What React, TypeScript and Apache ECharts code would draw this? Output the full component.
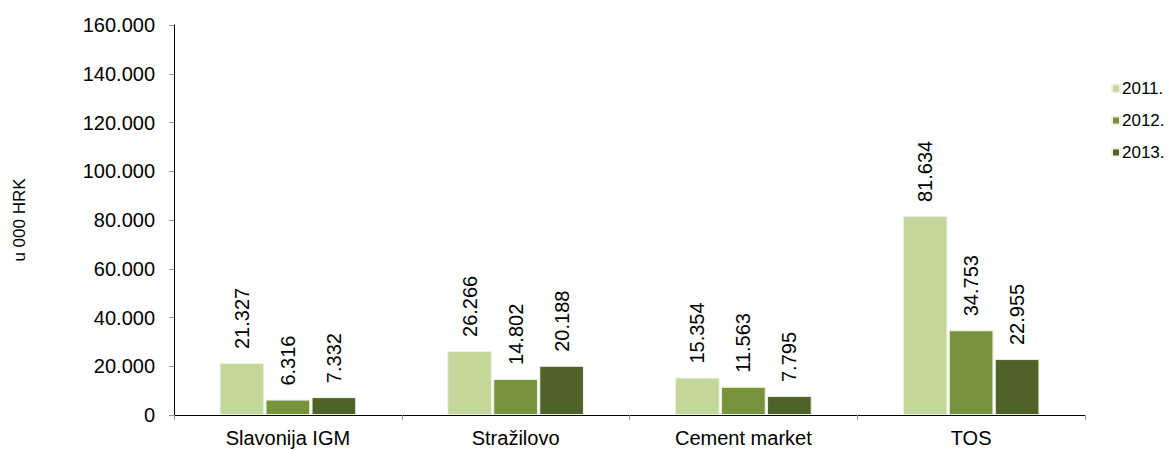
import React, { useEffect, useRef } from "react";
import * as echarts from "echarts";

const categories = ["Slavonija IGM", "Stražilovo", "Cement market", "TOS"];
const s2011 = [21327, 26266, 15354, 81634];
const s2012 = [6316, 14802, 11563, 34753];
const s2013 = [7332, 20188, 7795, 22955];
const seriesNames = ["2011.", "2012.", "2013."];
const colors = ["#C4D79B", "#77933C", "#4F6228"];

const fmt = (v: number) => {
  if (v === 0) return "0";
  const s = Math.round(v).toString();
  return s.replace(/\B(?=(\d{3})+(?!\d))/g, ".");
};

export default function App() {
  const ref = useRef<HTMLDivElement>(null);
  useEffect(() => {
    if (!ref.current) return;
    const chart = echarts.init(ref.current, undefined, { renderer: "svg" });
    const data = [s2011, s2012, s2013];
    chart.setOption({
      animation: false,
      textStyle: { fontFamily: "Liberation Sans, Arial, sans-serif" },
      grid: { left: 174, right: 83, top: 25, bottom: 35, containLabel: false },
      legend: {
        orient: "vertical",
        left: 1106,
        top: 75,
        itemWidth: 8,
        itemHeight: 8,
        itemGap: 15,
        icon: "rect",
        textStyle: { fontSize: 17, color: "#000", padding: [0, 0, 0, -3] },
        data: seriesNames,
      },
      xAxis: {
        type: "category",
        data: categories,
        axisLine: { lineStyle: { color: "#000", width: 1 } },
        axisTick: { show: true, length: 5, lineStyle: { color: "#999" } },
        axisLabel: { fontSize: 20, color: "#000", margin: 13 },
      },
      yAxis: {
        type: "value",
        min: 0,
        max: 160000,
        interval: 20000,
        name: "u 000 HRK",
        nameLocation: "middle",
        nameGap: 146,
        nameRotate: 90,
        nameTextStyle: { fontSize: 17, color: "#000" },
        axisLine: { show: true, lineStyle: { color: "#000", width: 1 } },
        axisTick: { show: true, length: 5, lineStyle: { color: "#999" } },
        splitLine: { show: false },
        axisLabel: { fontSize: 20, color: "#000", formatter: (v: number) => fmt(v), margin: 19 },
      },
      series: data.map((d, i) => ({
        name: seriesNames[i],
        type: "bar",
        data: d,
        barCategoryGap: "40%",
        barGap: "3%",
        itemStyle: { color: colors[i], borderColor: "#eef2e4", borderWidth: 1 },
        label: {
          show: true,
          position: "top",
          rotate: 90,
          align: "left",
          verticalAlign: "middle",
          distance: 14,
          fontSize: 20,
          color: "#000",
          formatter: (p: any) => fmt(p.value),
        },
      })),
    });
    return () => chart.dispose();
  }, []);
  return <div ref={ref} style={{ width: 1168, height: 450, position: "absolute", left: 0, top: 0 }} />;
}
